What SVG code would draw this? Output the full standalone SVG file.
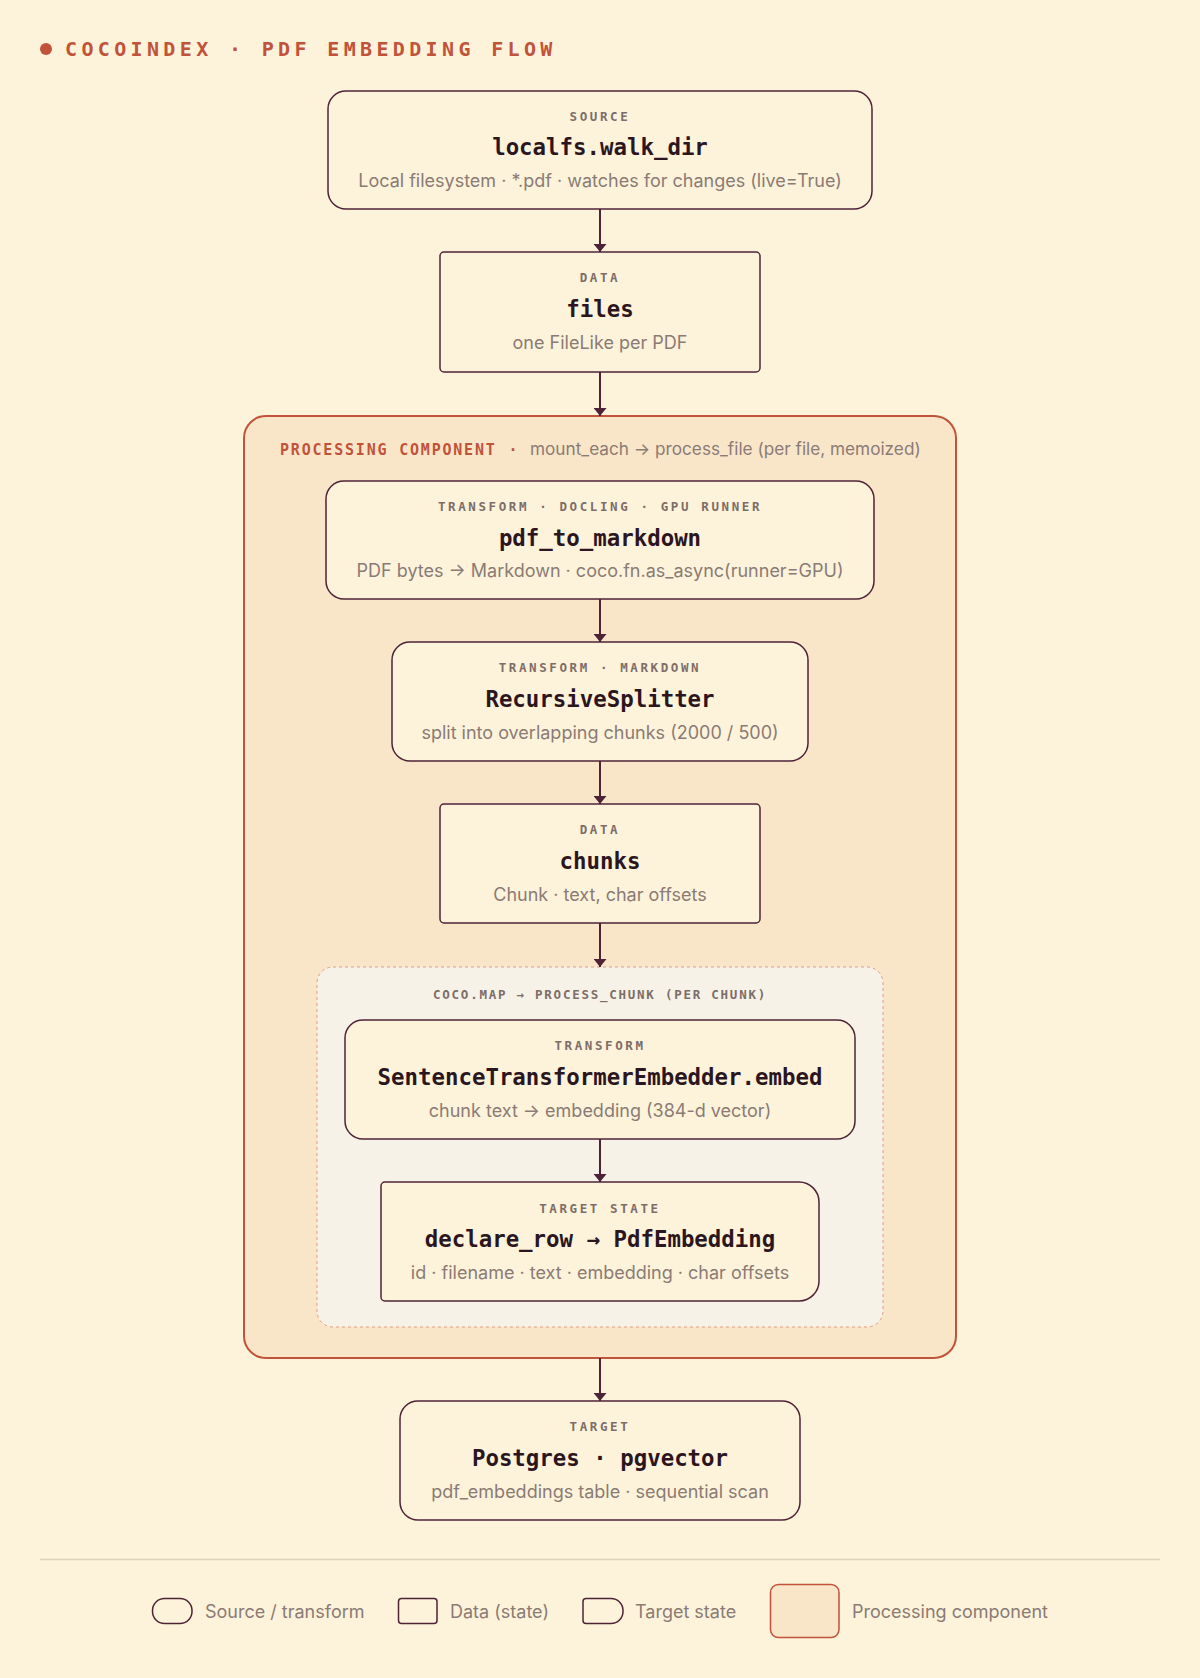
<svg xmlns="http://www.w3.org/2000/svg" width="1200" height="1678" viewBox="0 0 1200 1678">
  <style>
    .node { fill: #fdf3da; stroke: #4e2338; stroke-width: 1.5; }
    .lbl { font-family: "DejaVu Sans Mono", "Liberation Mono", monospace; font-size: 12.5px; font-weight: 700; letter-spacing: 2.6px; fill: #7d6d68; text-anchor: middle; }
    .ttl { font-family: "DejaVu Sans Mono", "Liberation Mono", monospace; font-size: 22.4px; font-weight: 700; fill: #2b1620; text-anchor: middle; }
    .sub { font-family: Inter, "Noto Sans", "Liberation Sans", sans-serif; font-size: 18px; fill: #8b7b75; text-anchor: middle; }
    .leg { font-family: Inter, "Noto Sans", "Liberation Sans", sans-serif; font-size: 18px; fill: #8b7b75; }
    .conn { stroke: #4e2338; stroke-width: 2; fill: none; }
  </style>
  <defs>
    <marker id="arr" viewBox="0 0 8 13" refX="8" refY="6.5" markerWidth="8" markerHeight="13" markerUnits="userSpaceOnUse" orient="auto">
      <path d="M0,0 L8,6.5 L0,13 z" fill="#4e2338"/>
    </marker>
  </defs>

  <rect x="0" y="0" width="1200" height="1678" fill="#fdf3da"/>

  <g id="header">
    <circle cx="46" cy="49" r="6" fill="#c0533a"/>
    <text x="65" y="56" font-family="DejaVu Sans Mono, Liberation Mono, monospace" font-size="20" font-weight="700" letter-spacing="4.35" fill="#c0533a">COCOINDEX · PDF EMBEDDING FLOW</text>
  </g>

  <g id="processing-component">
    <rect x="244" y="416" width="712" height="942" rx="22" fill="#f9e6c9" stroke="#c0533a" stroke-width="2"/>
    <text x="280" y="455" font-family="DejaVu Sans Mono, Liberation Mono, monospace" font-size="15" font-weight="700" letter-spacing="1.8" fill="#c0533a">PROCESSING COMPONENT</text>
    <text x="513" y="455" font-family="DejaVu Sans Mono, Liberation Mono, monospace" font-size="15" font-weight="700" fill="#c0533a" text-anchor="middle">·</text>
    <text x="530" y="455" font-family="Inter, Noto Sans, Liberation Sans, sans-serif" font-size="17.2" fill="#8b7b75">mount_each → process_file (per file, memoized)</text>
  </g>

  <g id="coco-map">
    <rect x="317" y="967" width="566" height="360" rx="16" fill="#f6f2e7" stroke="#e39a84" stroke-width="1" stroke-dasharray="3 3"/>
    <text x="600" y="999" font-family="DejaVu Sans Mono, Liberation Mono, monospace" font-size="12.5" font-weight="700" letter-spacing="1.75" fill="#7d6d68" text-anchor="middle">COCO.MAP → PROCESS_CHUNK (PER CHUNK)</text>
  </g>

  <g id="connectors">
    <line class="conn" x1="600" y1="209" x2="600" y2="252" marker-end="url(#arr)"/>
    <line class="conn" x1="600" y1="372" x2="600" y2="416" marker-end="url(#arr)"/>
    <line class="conn" x1="600" y1="599" x2="600" y2="642" marker-end="url(#arr)"/>
    <line class="conn" x1="600" y1="761" x2="600" y2="804" marker-end="url(#arr)"/>
    <line class="conn" x1="600" y1="923" x2="600" y2="967" marker-end="url(#arr)"/>
    <line class="conn" x1="600" y1="1139" x2="600" y2="1182" marker-end="url(#arr)"/>
    <line class="conn" x1="600" y1="1358" x2="600" y2="1401" marker-end="url(#arr)"/>
  </g>

  <g id="source">
    <rect class="node" x="328" y="91" width="544" height="118" rx="18"/>
    <text class="lbl" x="600" y="121">SOURCE</text>
    <text class="ttl" x="600" y="155">localfs.walk_dir</text>
    <text class="sub" x="600" y="187">Local filesystem · *.pdf · watches for changes (live=True)</text>
  </g>

  <g id="files">
    <rect class="node" x="440" y="252" width="320" height="120" rx="4"/>
    <text class="lbl" x="600" y="282">DATA</text>
    <text class="ttl" x="600" y="316.5">files</text>
    <text class="sub" x="600" y="349">one FileLike per PDF</text>
  </g>

  <g id="pdf_to_markdown">
    <rect class="node" x="326" y="481" width="548" height="118" rx="18"/>
    <text class="lbl" x="600" y="511">TRANSFORM · DOCLING · GPU RUNNER</text>
    <text class="ttl" x="600" y="546">pdf_to_markdown</text>
    <text class="sub" x="600" y="577">PDF bytes → Markdown · coco.fn.as_async(runner=GPU)</text>
  </g>

  <g id="recursive-splitter">
    <rect class="node" x="392" y="642" width="416" height="119" rx="18"/>
    <text class="lbl" x="600" y="672">TRANSFORM · MARKDOWN</text>
    <text class="ttl" x="600" y="706.5">RecursiveSplitter</text>
    <text class="sub" x="600" y="738.5">split into overlapping chunks (2000 / 500)</text>
  </g>

  <g id="chunks">
    <rect class="node" x="440" y="804" width="320" height="119" rx="4"/>
    <text class="lbl" x="600" y="834">DATA</text>
    <text class="ttl" x="600" y="868.5">chunks</text>
    <text class="sub" x="600" y="900.5">Chunk · text, char offsets</text>
  </g>

  <g id="embed">
    <rect class="node" x="345" y="1020" width="510" height="119" rx="18"/>
    <text class="lbl" x="600" y="1050">TRANSFORM</text>
    <text class="ttl" x="600" y="1084.5">SentenceTransformerEmbedder.embed</text>
    <text class="sub" x="600" y="1116.5">chunk text → embedding (384-d vector)</text>
  </g>

  <g id="declare-row">
    <path class="node" d="M385,1182 H799 A20,20 0 0 1 819,1202 V1281 A20,20 0 0 1 799,1301 H385 A4,4 0 0 1 381,1297 V1186 A4,4 0 0 1 385,1182 Z"/>
    <text class="lbl" x="600" y="1213">TARGET STATE</text>
    <text class="ttl" x="600" y="1246.5">declare_row → PdfEmbedding</text>
    <text class="sub" x="600" y="1279">id · filename · text · embedding · char offsets</text>
  </g>

  <g id="postgres">
    <rect class="node" x="400" y="1401" width="400" height="119" rx="18"/>
    <text class="lbl" x="600" y="1431">TARGET</text>
    <text class="ttl" x="600" y="1465.5">Postgres · pgvector</text>
    <text class="sub" x="600" y="1497.5">pdf_embeddings table · sequential scan</text>
  </g>

  <g id="legend">
    <line x1="40" y1="1559.5" x2="1160" y2="1559.5" stroke="#ddd2bb" stroke-width="1.5"/>
    <rect class="node" x="152.5" y="1598.5" width="39.5" height="25" rx="12"/>
    <text class="leg" x="205" y="1618">Source / transform</text>
    <rect class="node" x="398.5" y="1598.5" width="38.5" height="25" rx="3"/>
    <text class="leg" x="450" y="1618">Data (state)</text>
    <path class="node" d="M586,1598.5 H611 A12,12 0 0 1 623,1610.5 V1611.5 A12,12 0 0 1 611,1623.5 H586 A3,3 0 0 1 583,1620.5 V1601.5 A3,3 0 0 1 586,1598.5 Z"/>
    <text class="leg" x="635" y="1618">Target state</text>
    <rect x="770.5" y="1584.5" width="68.5" height="53" rx="8" fill="#f9e6c9" stroke="#c0533a" stroke-width="1.5"/>
    <text class="leg" x="852" y="1618">Processing component</text>
  </g>
</svg>
